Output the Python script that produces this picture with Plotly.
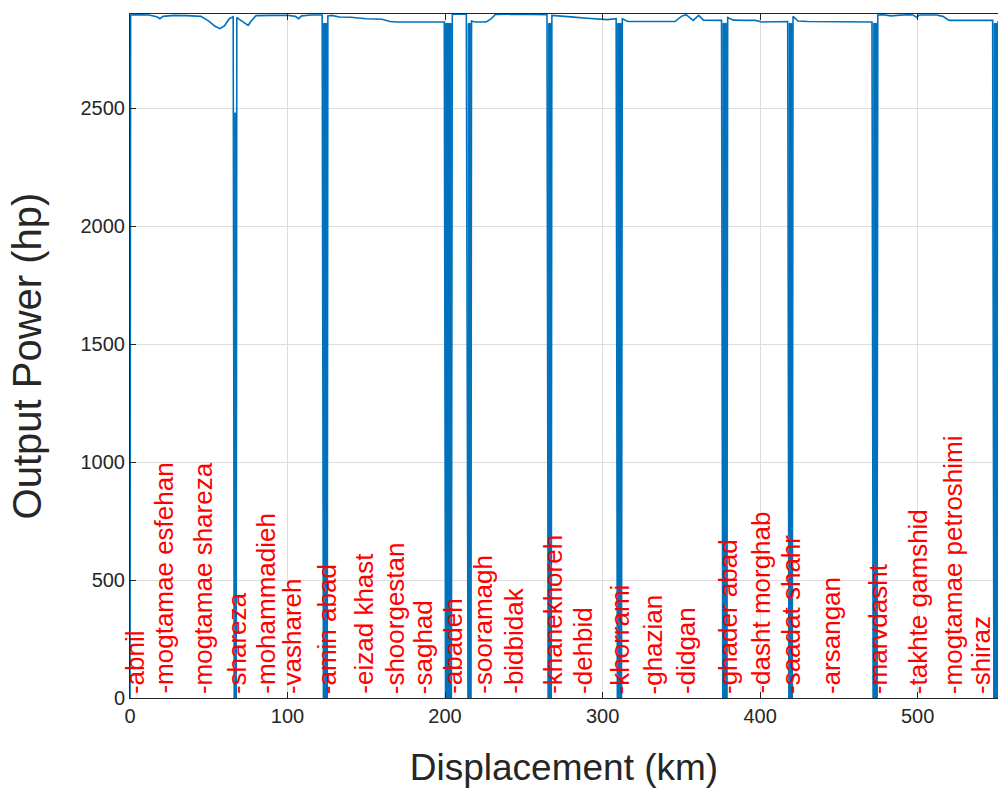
import plotly.graph_objects as go

# ---- data ----
displacement_km = [
    0.0, 0.4, 6, 12, 17, 19, 21, 28, 36, 45, 50, 54, 57, 60, 63, 65.5,
    66.2, 67.4, 67.8,
    70, 73, 75, 77, 80, 90, 100, 105, 107, 109, 115, 122.0,
    122.8, 125.2, 125.6,
    128, 133, 140, 150, 160, 165, 170, 185, 199.5,
    200.3, 204.0, 204.6,
    208, 213.5,
    214.6, 216.4, 216.8,
    219, 222, 226, 229, 232, 245, 255, 264.7,
    265.5, 267.4, 267.8,
    272, 280, 290, 297, 303, 308.6,
    309.4, 312.0, 312.5,
    316, 325, 335, 346, 350, 353, 357.5, 361, 364, 370, 375.5,
    376.3, 378.9, 379.4,
    383, 390, 397, 401, 410, 417.5,
    418.3, 420.4, 420.9,
    424, 430, 445, 460, 471.0,
    471.8, 474.2, 474.7,
    478, 483, 488, 493, 497, 499.5, 501, 505, 512, 516, 520, 525, 535, 547.6,
    548.4, 550.8, 551.0,
]
output_power_hp = [
    0, 2896, 2897, 2896, 2888, 2880, 2890, 2894, 2893, 2890, 2870, 2848, 2838, 2850, 2880, 2888,
    0, 0, 2885,
    2875, 2860, 2852, 2870, 2893, 2894, 2895, 2890, 2880, 2892, 2896, 2896,
    0, 0, 2892,
    2894, 2887, 2886, 2880, 2878, 2868, 2866, 2866, 2866,
    0, 0, 2898,
    2900, 2899,
    0, 0, 2870,
    2866, 2865, 2866, 2878, 2898, 2899, 2898, 2897,
    0, 0, 2894,
    2893, 2888, 2882, 2880, 2876, 2880,
    0, 0, 2880,
    2868, 2868, 2867, 2868, 2890, 2897, 2873, 2894, 2874, 2873, 2873,
    0, 0, 2885,
    2874, 2873, 2873, 2866, 2866, 2868,
    0, 0, 2890,
    2870, 2868, 2868, 2866, 2866,
    0, 0, 2896,
    2897, 2892, 2896, 2897, 2896, 2885, 2896, 2897, 2896, 2890, 2873, 2873, 2873, 2873,
    0, 0, 2870,
]

# station stops (km) where the power falls to zero and restarts
stop_start_km = [66.2, 122.8, 200.3, 214.6, 265.5, 309.4, 376.3, 418.3, 471.8, 548.4]
stop_end_km = [67.4, 125.2, 204.0, 216.4, 267.4, 312.0, 378.9, 420.4, 474.2, 550.8]
restart_hp = [2480, 2860, 2860, 2860, 2860, 2860, 2860, 2860, 2860, 2860]

station_names = [
    "abnil", "mogtamae esfehan", "mogtamae shareza", "shareza", "mohammadieh",
    "vashareh", "amin abad", "eizad khast", "shoorgestan", "saghad", "abadeh",
    "sooramagh", "bidbidak", "khanekhoreh", "dehbid", "khorrami", "ghazian",
    "didgan", "ghader abad", "dasht morghab", "saadat shahr", "arsangan",
    "marvdasht", "takhte gamshid", "mogtamae petroshimi", "shiraz",
]
station_km = [
    3.2, 21.0, 46.4, 68.0, 85.8, 102.9, 125.2, 148.0, 168.4, 186.1, 204.6,
    223.6, 243.3, 268.1, 287.2, 311.3, 332.3, 352.6, 379.3, 400.3, 419.3,
    444.7, 474.6, 500.0, 522.2, 551.0,
]

x_ticks = [0, 100, 200, 300, 400, 500]
y_ticks = [0, 500, 1000, 1500, 2000, 2500]

BLUE = "#0072BD"
AX = "#262626"
FONT = "Liberation Sans, Arial, sans-serif"

fig = go.Figure()

# filled part of each stop (down and up strokes overlapping)
for s, e, r in zip(stop_start_km, stop_end_km, restart_hp):
    fig.add_trace(go.Scatter(
        x=[s, s, e, e], y=[0, r, r, 0], mode="lines", fill="toself",
        fillcolor=BLUE, line=dict(color=BLUE, width=1),
        hoverinfo="skip", showlegend=False,
    ))

fig.add_trace(go.Scatter(
    x=displacement_km, y=output_power_hp, mode="lines",
    line=dict(color=BLUE, width=1.6), showlegend=False,
))

n = len(station_names)
for i, (name, km) in enumerate(zip(station_names, station_km)):
    fig.add_annotation(
        x=km, y=0, xref="x", yref="y", text="-" + name, textangle=-90,
        showarrow=False, xanchor="right" if i == n - 1 else "center",
        yanchor="bottom", yshift=2,
        font=dict(family=FONT, size=26, color="#ff0000"),
    )

fig.update_layout(
    width=998, height=792,
    margin=dict(l=130, r=0, t=14, b=94),
    paper_bgcolor="white", plot_bgcolor="white",
    font=dict(family=FONT, color=AX),
    showlegend=False,
)
fig.update_xaxes(
    range=[0, 551], tickvals=x_ticks, ticks="inside", ticklen=6, tickcolor=AX,
    showline=True, linecolor=AX, linewidth=1, mirror="ticks",
    showgrid=True, gridcolor="#dddddd", gridwidth=1, zeroline=False,
    tickfont=dict(family=FONT, size=20, color=AX),
    title=dict(text="Displacement (km)", font=dict(family=FONT, size=37, color=AX), standoff=28),
)
fig.update_yaxes(
    range=[0, 2900], tickvals=y_ticks, ticks="inside", ticklen=6, tickcolor=AX,
    showline=True, linecolor=AX, linewidth=1, mirror=False,
    showgrid=True, gridcolor="#dddddd", gridwidth=1, zeroline=False,
    tickfont=dict(family=FONT, size=20, color=AX),
    title=dict(text="Output Power (hp)", font=dict(family=FONT, size=40, color=AX), standoff=26),
)

fig.write_html("out.html")
